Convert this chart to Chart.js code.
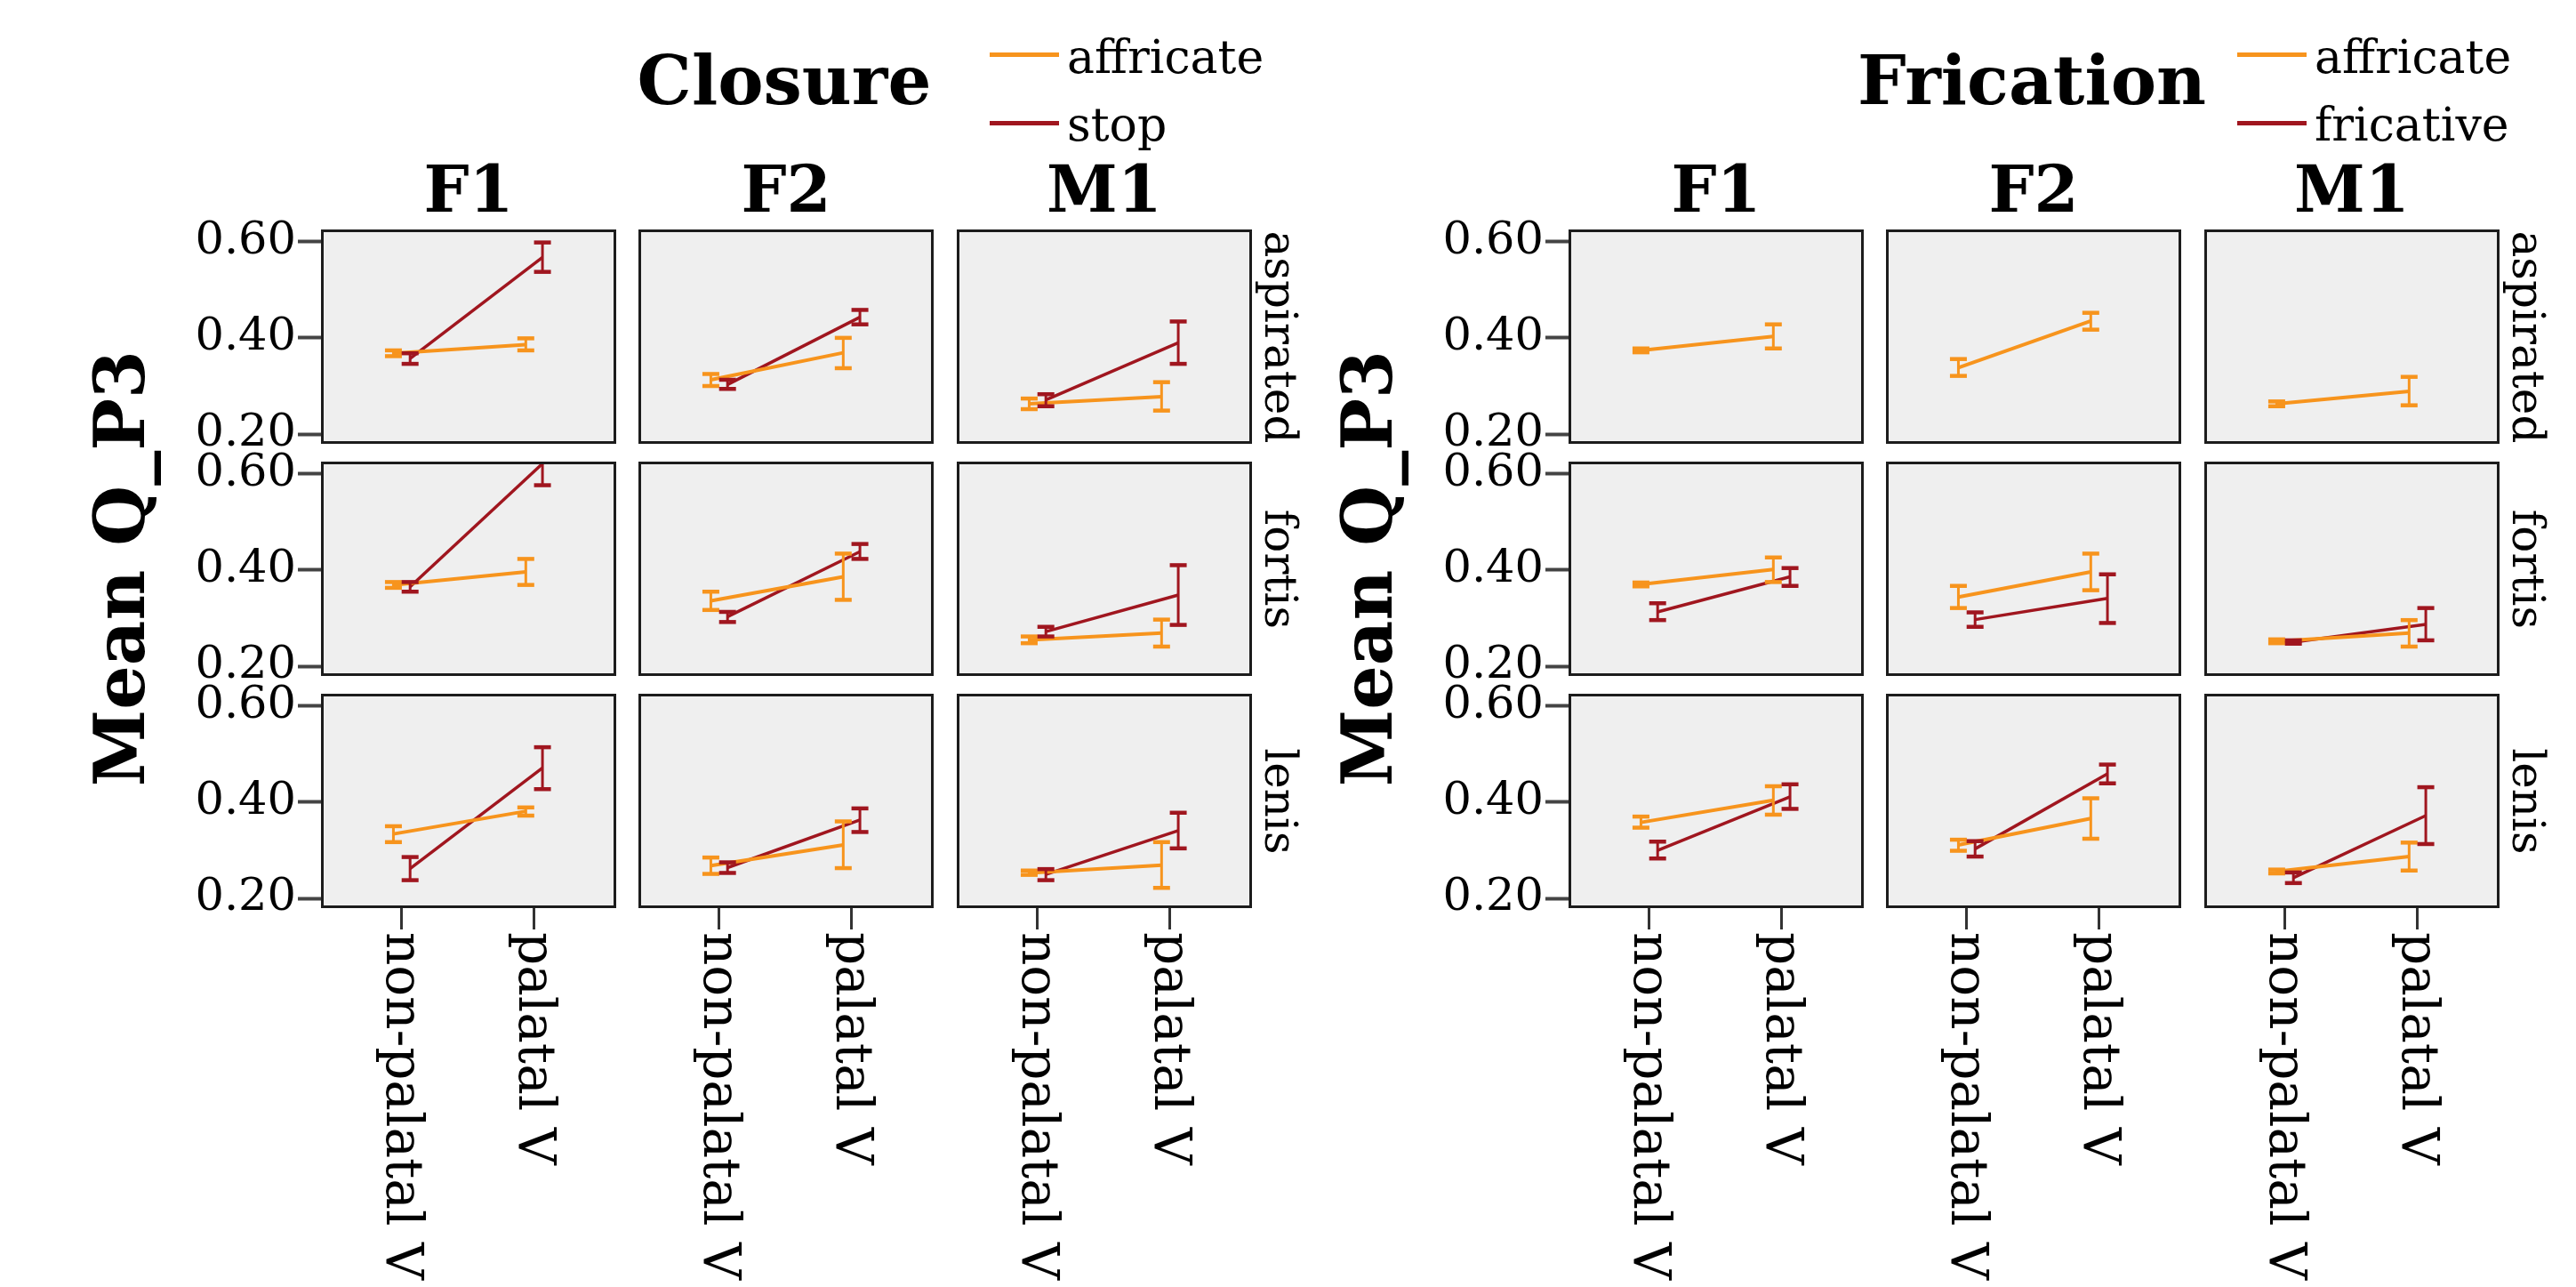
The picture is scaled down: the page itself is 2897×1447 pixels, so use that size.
<!DOCTYPE html>
<html><head><meta charset="utf-8">
<script src="https://cdn.jsdelivr.net/npm/chart.js@4.4.1/dist/chart.umd.min.js"></script>
<style>
html,body{margin:0;padding:0;background:#fff;}
body{width:2897px;height:1447px;position:relative;overflow:hidden;font-family:'DejaVu Serif',serif;color:#000;}
canvas{position:absolute;}
.t{position:absolute;white-space:nowrap;line-height:1;}
.c{text-align:center;width:800px;}
.lg{position:absolute;height:5px;width:78px;}
</style></head><body>
<script>
// ---------- DATA ----------
const speakers = ['F1', 'F2', 'M1'];
const phonations = ['aspirated', 'fortis', 'lenis'];
const vowelContexts = ['non-palatal V', 'palatal V'];
const yTickValues = [0.2, 0.4, 0.6];
const figureTitles = ['Closure', 'Frication'];
const yAxisTitle = 'Mean Q_P3';
const closureSeriesNames = ['affricate', 'stop'];
const fricationSeriesNames = ['affricate', 'fricative'];

// rows: aspirated, fortis, lenis; columns: F1, F2, M1; each [non-palatal V, palatal V]
const closureAffricateMean = [
  [[0.368, 0.386], [0.313, 0.369], [0.263, 0.278]],
  [[0.369, 0.396], [0.336, 0.386], [0.255, 0.269]],
  [[0.334, 0.381], [0.268, 0.311], [0.253, 0.269]]
];
const closureAffricateLow = [
  [[0.362, 0.374], [0.300, 0.337], [0.252, 0.249]],
  [[0.363, 0.369], [0.317, 0.338], [0.248, 0.241]],
  [[0.317, 0.372], [0.251, 0.263], [0.249, 0.222]]
];
const closureAffricateHigh = [
  [[0.374, 0.399], [0.325, 0.400], [0.274, 0.308]],
  [[0.375, 0.423], [0.355, 0.434], [0.262, 0.297]],
  [[0.350, 0.389], [0.285, 0.360], [0.258, 0.317]]
];
const closureStopMean = [
  [[0.357, 0.567], [0.303, 0.443], [0.271, 0.390]],
  [[0.365, 0.621], [0.303, 0.438], [0.272, 0.348]],
  [[0.262, 0.471], [0.264, 0.363], [0.250, 0.341]]
];
const closureStopLow = [
  [[0.346, 0.537], [0.294, 0.428], [0.258, 0.346]],
  [[0.355, 0.576], [0.292, 0.423], [0.262, 0.286]],
  [[0.238, 0.427], [0.253, 0.338], [0.238, 0.304]]
];
const closureStopHigh = [
  [[0.368, 0.598], [0.313, 0.458], [0.283, 0.434]],
  [[0.375, 0.666], [0.313, 0.454], [0.282, 0.410]],
  [[0.286, 0.514], [0.275, 0.387], [0.261, 0.378]]
];
const fricationAffricateMean = [
  [[0.374, 0.403], [0.338, 0.435], [0.263, 0.289]],
  [[0.370, 0.401], [0.344, 0.396], [0.252, 0.269]],
  [[0.358, 0.404], [0.311, 0.366], [0.256, 0.287]]
];
const fricationAffricateLow = [
  [[0.370, 0.378], [0.321, 0.417], [0.258, 0.260]],
  [[0.366, 0.375], [0.321, 0.358], [0.248, 0.241]],
  [[0.347, 0.374], [0.299, 0.324], [0.252, 0.258]]
];
const fricationAffricateHigh = [
  [[0.378, 0.428], [0.356, 0.452], [0.268, 0.319]],
  [[0.374, 0.426], [0.367, 0.434], [0.256, 0.296]],
  [[0.370, 0.433], [0.322, 0.408], [0.260, 0.316]]
];
const fricationFricativeMean = [
  [null, null, null],
  [[0.313, 0.386], [0.297, 0.341], [0.250, 0.287]],
  [[0.300, 0.411], [0.303, 0.459], [0.243, 0.372]]
];
const fricationFricativeLow = [
  [null, null, null],
  [[0.296, 0.367], [0.282, 0.290], [0.247, 0.254]],
  [[0.283, 0.386], [0.287, 0.439], [0.232, 0.313]]
];
const fricationFricativeHigh = [
  [null, null, null],
  [[0.331, 0.404], [0.312, 0.391], [0.254, 0.321]],
  [[0.318, 0.437], [0.319, 0.478], [0.254, 0.431]]
];

// ---------- STYLE / LAYOUT ----------
const COLORS = ['#F7941D', '#A0161F'];
const LINE_W = [4, 3.5];
const DODGE = [-0.063, 0.063];
const FIG_X = [0, 1403];
const PANEL_X = [361, 718, 1076];
const PANEL_W = 332;
const PANEL_Y = [258, 519, 780];
const PANEL_H = 241;
const AXIS_W = 161;
const XAXIS_H = 426;
const PAD = 40;

const figures = [
  { title: figureTitles[0], names: closureSeriesNames,
    series: [
      { mean: closureAffricateMean, low: closureAffricateLow, high: closureAffricateHigh },
      { mean: closureStopMean, low: closureStopLow, high: closureStopHigh }
    ] },
  { title: figureTitles[1], names: fricationSeriesNames,
    series: [
      { mean: fricationAffricateMean, low: fricationAffricateLow, high: fricationAffricateHigh },
      { mean: fricationFricativeMean, low: fricationFricativeLow, high: fricationFricativeHigh }
    ] }
];

const panelPlugin = {
  id: 'panelDeco',
  beforeDraw(chart) {
    const a = chart.chartArea, ctx = chart.ctx;
    ctx.save();
    ctx.fillStyle = '#EFEFEF';
    ctx.fillRect(a.left, a.top, a.right - a.left, a.bottom - a.top);
    ctx.restore();
  },
  afterDatasetsDraw(chart) {
    const a = chart.chartArea, ctx = chart.ctx, ys = chart.scales.y;
    ctx.save();
    ctx.beginPath();
    ctx.rect(a.left, a.top, a.right - a.left, a.bottom - a.top);
    ctx.clip();
    chart.data.datasets.forEach((ds, i) => {
      const meta = chart.getDatasetMeta(i);
      ctx.strokeStyle = ds.borderColor;
      meta.data.forEach((pt, j) => {
        const x = pt.x;
        const yl = ys.getPixelForValue(ds.lo[j]);
        const yh = ys.getPixelForValue(ds.hi[j]);
        ctx.lineWidth = 3;
        ctx.beginPath(); ctx.moveTo(x, yl); ctx.lineTo(x, yh); ctx.stroke();
        ctx.lineWidth = 4.5;
        ctx.beginPath(); ctx.moveTo(x - 9.5, yl); ctx.lineTo(x + 9.5, yl); ctx.stroke();
        ctx.beginPath(); ctx.moveTo(x - 9.5, yh); ctx.lineTo(x + 9.5, yh); ctx.stroke();
      });
    });
    ctx.restore();
  },
  afterDraw(chart) {
    const a = chart.chartArea, ctx = chart.ctx;
    ctx.save();
    ctx.strokeStyle = '#1c1c1c';
    ctx.lineWidth = 3;
    ctx.strokeRect(a.left + 1.5, a.top + 1.5, a.right - a.left - 3, a.bottom - a.top - 3);
    const xs = chart.scales.x;
    if (xs.options.display) {
      ctx.fillStyle = '#000';
      ctx.font = '58px "DejaVu Serif"';
      ctx.textAlign = 'left';
      ctx.textBaseline = 'middle';
      vowelContexts.forEach((lab, i) => {
        const px = xs.getPixelForValue(i);
        ctx.save();
        ctx.translate(px - 2, a.bottom + 27);
        ctx.rotate(Math.PI / 2);
        ctx.fillText(lab, 0, 0);
        ctx.restore();
      });
    }
    ctx.restore();
  }
};

function makePanel(f, r, c) {
  const fig = figures[f];
  const ox = FIG_X[f];
  const showY = c === 0, showX = r === 2;
  const padT = PAD, padB = showX ? 0 : PAD;
  const axL = showY ? AXIS_W : 0, axB = showX ? XAXIS_H : 0;
  const cv = document.createElement('canvas');
  const left = ox + PANEL_X[c] - axL, top = PANEL_Y[r] - padT;
  const w = axL + PANEL_W, h = padT + PANEL_H + padB + axB;
  cv.width = w; cv.height = h;
  cv.style.left = left + 'px'; cv.style.top = top + 'px';
  cv.style.width = w + 'px'; cv.style.height = h + 'px';
  document.body.appendChild(cv);
  const datasets = [];
  fig.series.forEach((s, si) => {
    const m = s.mean[r][c];
    if (!m) return;
    datasets.push({
      label: fig.names[si],
      data: m.map((v, i) => ({ x: i + DODGE[si], y: v })),
      lo: s.low[r][c], hi: s.high[r][c],
      borderColor: COLORS[si], backgroundColor: COLORS[si],
      borderWidth: LINE_W[si], pointRadius: 0, tension: 0
    });
  });
  const xOpt = {
    type: 'linear', min: -0.61, max: 1.62, display: showX,
    afterBuildTicks: s => { s.ticks = vowelContexts.map((_, i) => ({ value: i })); },
    grid: { drawOnChartArea: false, drawTicks: true, tickLength: 24, tickWidth: 3, tickColor: '#333', color: '#333' },
    border: { display: false },
    ticks: { display: false }
  };
  if (showX) xOpt.afterFit = s => { s.height = XAXIS_H; };
  const yOpt = {
    type: 'linear', min: 0.18, max: 0.625, display: showY,
    afterBuildTicks: s => { s.ticks = yTickValues.map(v => ({ value: v })); },
    grid: { drawOnChartArea: false, drawTicks: true, tickLength: 26, tickWidth: 4, tickColor: '#444', color: '#444' },
    border: { display: false },
    ticks: { font: { family: 'DejaVu Serif', size: 51 }, color: '#000', padding: 2, callback: v => Number(v).toFixed(2) }
  };
  if (showY) yOpt.afterFit = s => { s.width = AXIS_W; };
  new Chart(cv, {
    type: 'line',
    data: { datasets },
    options: {
      responsive: false, animation: false, devicePixelRatio: 1, events: [],
      layout: { padding: { top: padT, bottom: padB, left: 0, right: 0 } },
      plugins: { legend: { display: false }, tooltip: { enabled: false } },
      scales: { x: xOpt, y: yOpt }
    },
    plugins: [panelPlugin]
  });
}

function addText(txt, css, cls) {
  const d = document.createElement('div');
  d.className = 't' + (cls ? ' ' + cls : '');
  d.textContent = txt;
  Object.assign(d.style, css);
  document.body.appendChild(d);
  return d;
}

figures.forEach((fig, f) => {
  const ox = FIG_X[f];
  addText(fig.title, { left: (ox + 882 - 400) + 'px', top: '52px', fontSize: '77px', fontWeight: 'bold' }, 'c');
  fig.names.forEach((n, i) => {
    const ln = document.createElement('div');
    ln.className = 'lg';
    ln.style.left = (ox + 1113) + 'px';
    ln.style.top = (i === 0 ? 59 : 136) + 'px';
    ln.style.background = COLORS[i];
    document.body.appendChild(ln);
    addText(n, { left: (ox + 1200) + 'px', top: (i === 0 ? 38 : 114) + 'px', fontSize: '52px' });
  });
  speakers.forEach((s, c) => {
    addText(s, { left: (ox + PANEL_X[c] + PANEL_W / 2 - 400) + 'px', top: '177px', fontSize: '72px', fontWeight: 'bold' }, 'c');
  });
  phonations.forEach((p, r) => {
    addText(p, { left: (ox + 1440) + 'px', top: (PANEL_Y[r] + PANEL_H / 2) + 'px', fontSize: '50px',
      transform: 'translate(-50%,-50%) rotate(90deg)' });
  });
  addText(yAxisTitle, { left: (ox + 135) + 'px', top: '639px', fontSize: '78px', fontWeight: 'bold',
    transform: 'translate(-50%,-50%) rotate(-90deg)' });
  for (let r = 0; r < 3; r++) for (let c = 0; c < 3; c++) makePanel(f, r, c);
});
</script>
</body></html>
